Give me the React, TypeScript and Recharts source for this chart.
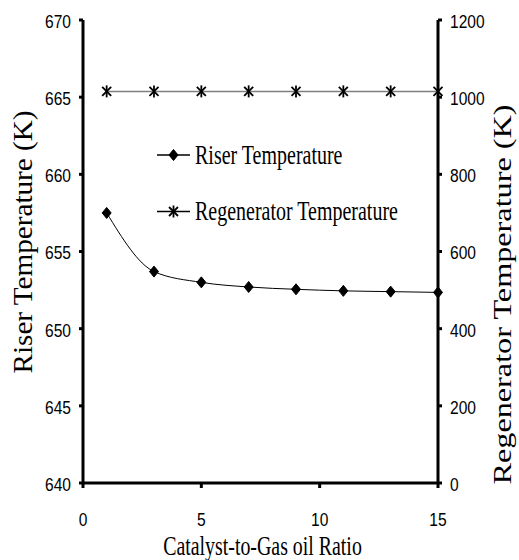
import React from "react";
import { LineChart, Line, XAxis, YAxis, Legend } from "recharts";

const catalystRatio = [1, 3, 5, 7, 9, 11, 13, 15];
const riserTemperature = [657.5, 653.7, 653.0, 652.7, 652.55, 652.45, 652.4, 652.35];
const regeneratorTemperature = [1015, 1015, 1015, 1015, 1015, 1015, 1015, 1015];
const xTicks = [0, 5, 10, 15];
const leftTicks = [640, 645, 650, 655, 660, 665, 670];
const rightTicks = [0, 200, 400, 600, 800, 1000, 1200];
const legendOrder = ["riser", "regen"];

const data = catalystRatio.map((r, i) => ({
  ratio: r,
  riser: riserTemperature[i],
  regen: regeneratorTemperature[i],
}));

const SERIF = "'Liberation Serif', 'Times New Roman', serif";
const SANS = "'Liberation Sans', Arial, sans-serif";

const diamondPath = (cx: number, cy: number) =>
  `M${cx},${cy - 5.5} L${cx + 4.5},${cy} L${cx},${cy + 5.5} L${cx - 4.5},${cy} Z`;

const Diamond = ({ cx, cy }: { cx: number; cy: number }) => (
  <path d={diamondPath(cx, cy)} fill="#000" stroke="#000" strokeWidth={1} />
);

const Star = ({ cx, cy }: { cx: number; cy: number }) => (
  <g stroke="#000" strokeWidth={1.8} fill="none">
    <line x1={cx - 4.5} y1={cy - 4.5} x2={cx + 4.5} y2={cy + 4.5} />
    <line x1={cx - 4.5} y1={cy + 4.5} x2={cx + 4.5} y2={cy - 4.5} />
    <line x1={cx} y1={cy - 6} x2={cx} y2={cy + 6} />
  </g>
);

const renderDiamondDot = (props: any) => (
  <Diamond key={`d-${props.index}`} cx={props.cx} cy={props.cy} />
);
const renderStarDot = (props: any) => (
  <Star key={`s-${props.index}`} cx={props.cx} cy={props.cy} />
);

const YTick = (props: any) => {
  const { x, y, payload, textAnchor } = props;
  return (
    <g transform={`translate(${x},${y})`}>
      <text
        transform="scale(0.82,1)"
        textAnchor={textAnchor}
        dy="0.42em"
        fontSize={19}
        fontFamily={SANS}
        fill="#000"
      >
        {payload.value}
      </text>
    </g>
  );
};

const XTick = (props: any) => {
  const { x, y, payload } = props;
  return (
    <g transform={`translate(${x},${y})`}>
      <text
        transform="scale(0.82,1)"
        textAnchor="middle"
        dy="0.72em"
        fontSize={19}
        fontFamily={SANS}
        fill="#000"
      >
        {payload.value}
      </text>
    </g>
  );
};

const XTitle = (props: any) => {
  const vb = props.viewBox;
  const cx = vb.x + vb.width / 2 + 2;
  const by = vb.y + 72;
  return (
    <text
      transform={`translate(${cx},${by}) scale(0.71,1)`}
      textAnchor="middle"
      fontSize={28}
      fontFamily={SERIF}
      fill="#000"
    >
      Catalyst-to-Gas oil Ratio
    </text>
  );
};

const LeftTitle = (props: any) => {
  const vb = props.viewBox;
  const bx = vb.x + 32;
  const cy = vb.y + vb.height / 2 - 9.5;
  return (
    <text
      transform={`translate(${bx},${cy}) rotate(-90) scale(1.08,1)`}
      textAnchor="middle"
      fontSize={27}
      fontFamily={SERIF}
      fill="#000"
    >
      Riser Temperature (K)
    </text>
  );
};

const RightTitle = (props: any) => {
  const vb = props.viewBox;
  const bx = vb.x + 73;
  const cy = vb.y + vb.height / 2 + 43;
  return (
    <text
      transform={`translate(${bx},${cy}) rotate(-90) scale(1.24,1)`}
      textAnchor="middle"
      fontSize={26}
      fontFamily={SERIF}
      fill="#000"
    >
      Regenerator Temperature (K)
    </text>
  );
};

const LegendContent = (props: any) => {
  const payload = [...(props.payload || [])].sort(
    (a: any, b: any) => legendOrder.indexOf(a.dataKey) - legendOrder.indexOf(b.dataKey)
  );
  return (
    <svg width={320} height={100} style={{ display: "block" }}>
      {payload.map((entry: any, i: number) => {
        const ly = 20 + i * 56.5;
        const mx = 23.5;
        return (
          <g key={`leg-${i}`}>
            <line x1={7} x2={40} y1={ly} y2={ly} stroke="#000" strokeWidth={1.3} />
            {entry.dataKey === "riser" ? <Diamond cx={mx} cy={ly} /> : <Star cx={mx} cy={ly} />}
            <text
              transform={`translate(45,${ly + 8.5}) scale(0.74,1)`}
              fontSize={27}
              fontFamily={SERIF}
              fill="#000"
            >
              {entry.value}
            </text>
          </g>
        );
      })}
    </svg>
  );
};

export default function App() {
  return (
    <div style={{ position: "absolute", left: 0, top: 0, width: 519, height: 560, background: "#fff" }}>
      <LineChart width={519} height={560} data={data} margin={{ top: 20, right: 0, bottom: 0, left: 0 }}>
        <XAxis
          dataKey="ratio"
          type="number"
          domain={[0, 15]}
          ticks={xTicks}
          height={77}
          axisLine={{ stroke: "#000", strokeWidth: 3 }}
          tickLine={{ stroke: "#000", strokeWidth: 3 }}
          tickSize={5}
          tickMargin={24}
          tick={XTick}
          label={{ content: XTitle }}
        />
        <YAxis
          yAxisId="left"
          orientation="left"
          domain={[640, 670]}
          ticks={leftTicks}
          width={83}
          axisLine={{ stroke: "#000", strokeWidth: 3 }}
          tickLine={{ stroke: "#000", strokeWidth: 3 }}
          tickSize={4}
          tickMargin={8}
          tick={YTick}
          label={{ content: LeftTitle }}
        />
        <YAxis
          yAxisId="right"
          orientation="right"
          domain={[0, 1200]}
          ticks={rightTicks}
          width={81}
          axisLine={{ stroke: "#000", strokeWidth: 3 }}
          tickLine={{ stroke: "#000", strokeWidth: 3 }}
          tickSize={4}
          tickMargin={8}
          tick={YTick}
          label={{ content: RightTitle }}
        />
        <Legend
          layout="vertical"
          align="center"
          verticalAlign="middle"
          content={LegendContent}
          wrapperStyle={{ left: 150, top: 135, width: 320, height: 100 }}
        />
        <Line
          yAxisId="left"
          dataKey="riser"
          name="Riser Temperature"
          type="monotone"
          stroke="#000"
          strokeWidth={1}
          dot={renderDiamondDot}
          activeDot={false}
          isAnimationActive={false}
        />
        <Line
          yAxisId="right"
          dataKey="regen"
          name="Regenerator Temperature"
          type="linear"
          stroke="#7f7f7f"
          strokeWidth={1.5}
          dot={renderStarDot}
          activeDot={false}
          isAnimationActive={false}
        />
      </LineChart>
    </div>
  );
}
